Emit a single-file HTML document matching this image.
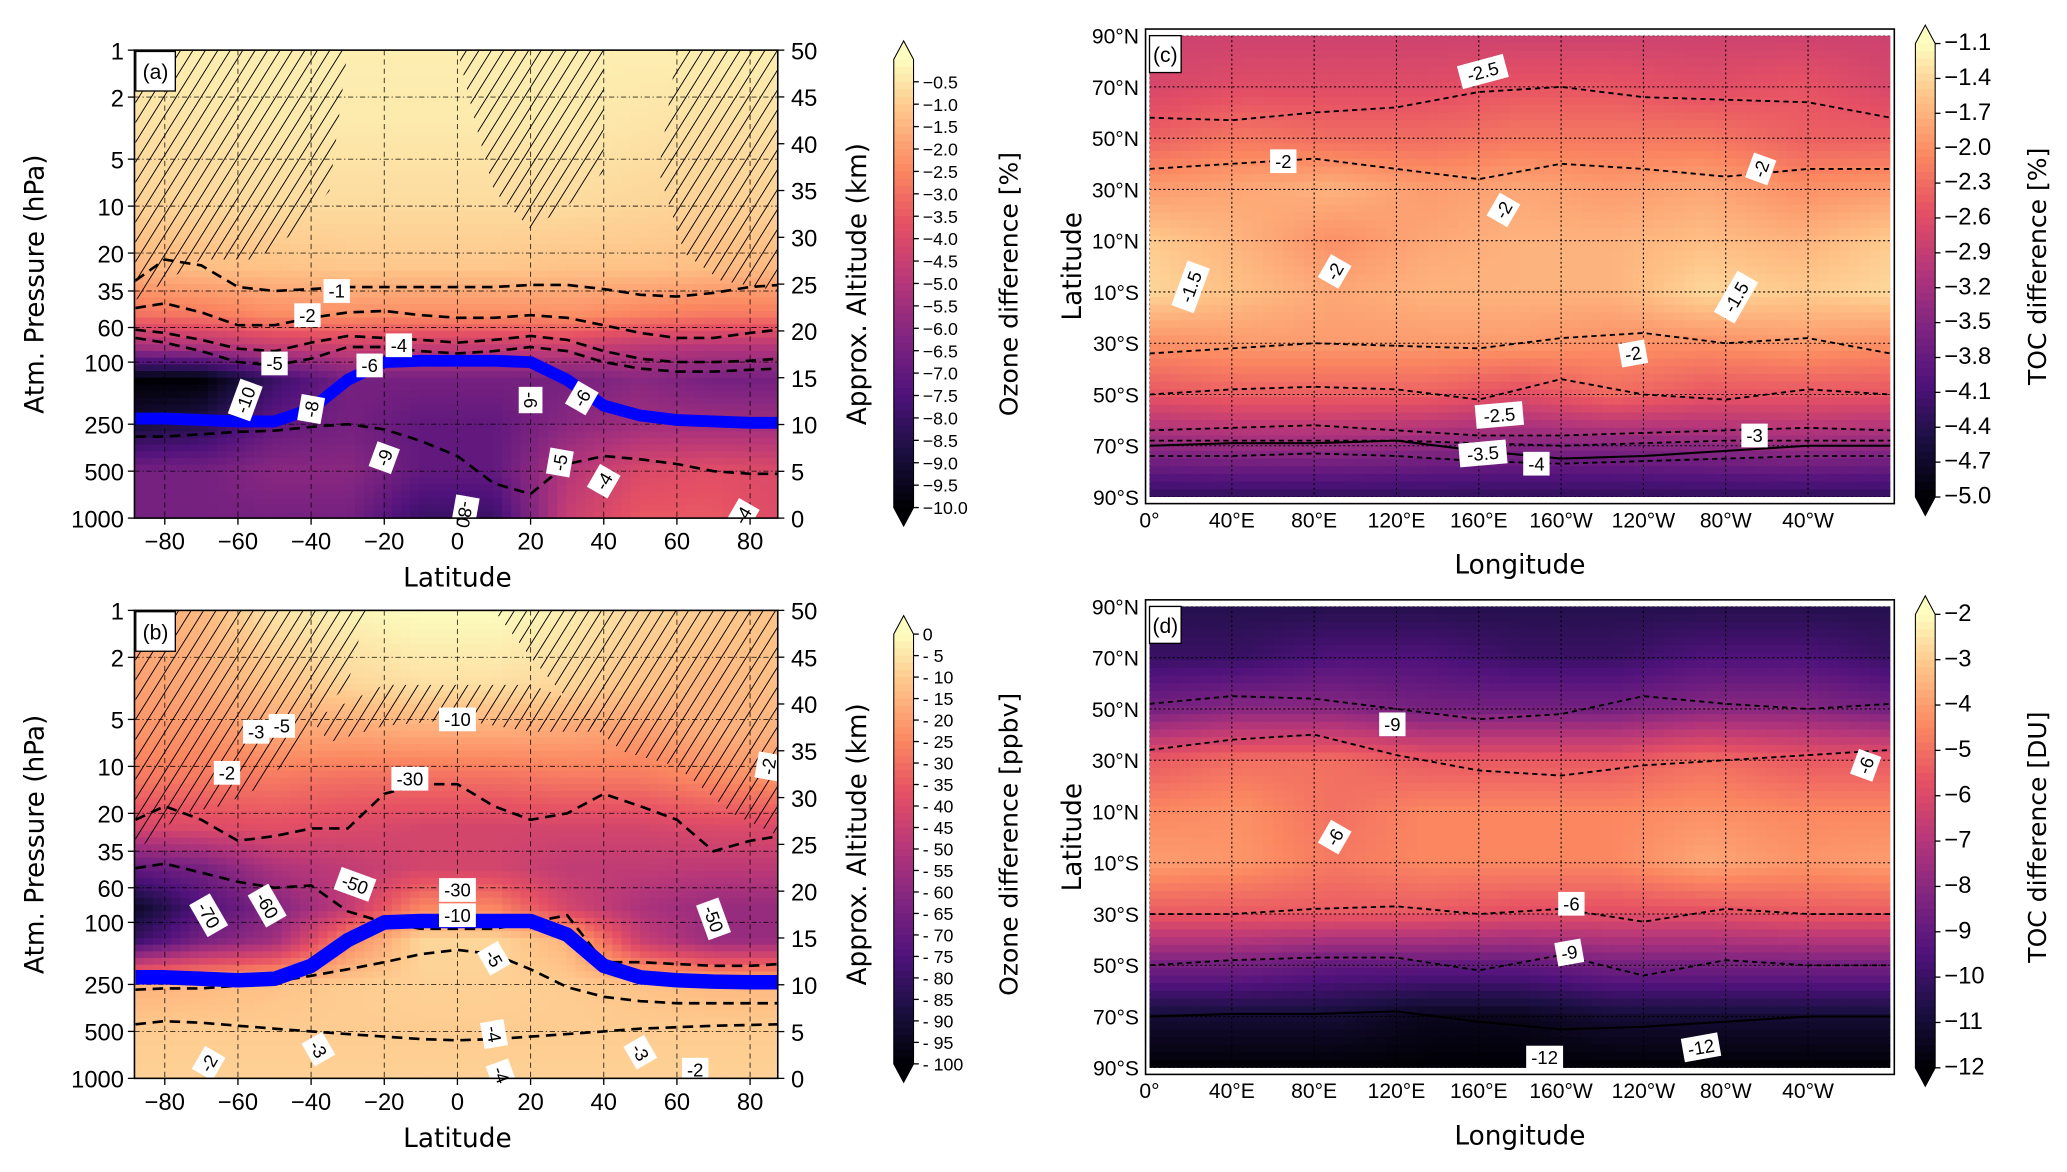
<!DOCTYPE html>
<html><head><meta charset="utf-8">
<style>
html,body{margin:0;padding:0;background:#fff;}
svg{display:block;font-family:"Liberation Sans","DejaVu Sans",sans-serif;}
.t{font-size:16px;fill:#000;}
.lab{font-family:"DejaVu Sans","Liberation Sans",sans-serif;font-size:20px;fill:#000;}
.cb{font-size:13.5px;fill:#000;}
.cl{font-size:14px;fill:#000;}
</style></head>
<body>
<svg id="fig" width="2067" height="1172" viewBox="0 0 1568 889" xmlns="http://www.w3.org/2000/svg">
<defs>
<pattern id="hatch" patternUnits="userSpaceOnUse" width="8" height="8" patternTransform="rotate(32)">
<line x1="0" y1="0" x2="0" y2="8" stroke="#000" stroke-width="1.4"/>
</pattern>
<clipPath id="clipA"><rect x="102" y="38" width="488" height="355"/></clipPath>
<clipPath id="clipB"><rect x="102" y="463" width="488" height="355"/></clipPath>
<clipPath id="clipC"><rect x="872" y="27" width="562" height="350"/></clipPath>
<clipPath id="clipD"><rect x="872" y="460" width="562" height="350"/></clipPath>
</defs>
</svg>
<script>
// ---------- data: panel (a) ozone difference [%] ----------
const latsA = [-90,-70,-50,-30,-10,10,30,50,70,90];
const presA = [1,3,10,25,50,80,130,250,500,1000];
const valsA = [
[-0.3,-0.3,-0.3,-0.3,-0.3,-0.3,-0.3,-0.3,-0.3,-0.3],
[-0.6,-0.5,-0.4,-0.4,-0.4,-0.4,-0.4,-0.5,-0.6,-0.6],
[-0.9,-0.8,-0.7,-0.7,-0.7,-0.7,-0.7,-0.8,-0.9,-0.9],
[-1.5,-1.3,-1.2,-1.1,-1.1,-1.1,-1.2,-1.2,-1.3,-1.4],
[-3.0,-2.8,-2.4,-2.3,-2.4,-2.4,-2.3,-2.6,-2.8,-2.8],
[-5.5,-5.2,-4.6,-4.4,-4.6,-4.6,-4.4,-4.8,-5.0,-5.0],
[-10,-10,-8,-6.5,-6.5,-6.5,-6.5,-6,-6.5,-6.5],
[-9,-8.5,-7,-6.5,-7,-7,-6,-5.5,-5.5,-5.5],
[-6.5,-6.5,-6,-6,-7,-7,-5,-4,-3.8,-4],
[-6.5,-6.5,-6.5,-6.5,-8,-8,-4.5,-3.5,-3.5,-4]];
// ---------- data: panel (b) ozone difference [ppbv] ----------
const latsB = [-90,-70,-50,-30,-10,10,30,50,70,90];
const presB = [1,3,6,12,25,45,80,130,250,500,1000];
const valsB = [
[-17,-14,-5,-2,0,0,-3,-8,-10,-12],
[-20,-17,-12,-8,-6,-6,-8,-12,-15,-12],
[-22,-22,-18,-18,-17,-17,-18,-20,-16,-15],
[-28,-28,-28,-30,-30,-30,-28,-28,-24,-22],
[-42,-40,-38,-40,-42,-42,-42,-42,-40,-40],
[-70,-65,-52,-47,-42,-42,-47,-47,-48,-48],
[-95,-75,-62,-47,-25,-25,-42,-52,-57,-57],
[-82,-65,-55,-25,-8,-8,-15,-45,-57,-57],
[-16,-14,-12,-10,-9,-9,-10,-12,-14,-14],
[-10,-10,-10,-10,-10,-10,-10,-10,-10,-10],
[-9,-9,-9,-9,-9,-9,-9,-9,-9,-9]];
// ---------- contours (a),(b): pressure per latitude ----------
const cLats = [-88,-80,-70,-60,-50,-40,-30,-20,-10,0,10,20,30,40,50,60,70,80,88];
const contA1 = [30,22,24,33,35,34,33,33,33,33,33,32,32,34,37,38,36,33,32];
const contA2 = [45,42,48,58,58,52,48,47,50,52,52,50,52,58,65,70,70,65,62];
const contA4 = [62,65,72,82,85,75,68,70,72,75,72,68,72,85,95,100,100,98,95];
const contA5 = [70,75,85,100,105,95,80,80,85,88,85,80,85,100,110,115,115,112,110];
const contA6 = [300,300,290,280,275,260,250,270,320,400,600,700,450,400,420,450,500,520,520];
const tropA = [230,230,235,240,240,200,130,100,98,98,98,100,130,190,220,235,240,245,245];
const contB30 = [22,18,22,30,28,25,25,15,13,13,18,22,20,15,18,22,35,30,28];
const contB10 = [45,42,48,55,60,58,85,100,110,110,110,100,90,180,180,185,190,190,185];
const contB5 = [270,265,265,255,240,220,200,180,160,150,160,200,260,300,320,330,330,330,330];
const contB3 = [450,430,440,460,480,500,520,540,560,570,560,540,520,500,480,470,460,455,450];
const tropB = [225,225,230,235,230,190,130,100,98,98,98,98,120,190,225,235,240,242,242];
// ---------- data: maps (c) [%] and (d) [DU] ----------
const mapLats = [90,70,50,30,10,-10,-30,-50,-70,-90];
const mapLons = [0,45,90,135,180,225,270,315,360];
const valsC = [
[-2.8,-2.8,-2.8,-2.8,-2.8,-2.8,-2.8,-2.8,-2.8],
[-2.7,-2.6,-2.6,-2.6,-2.5,-2.5,-2.6,-2.5,-2.7],
[-2.4,-2.2,-2.3,-2.3,-2.2,-2.2,-2.2,-2.4,-2.4],
[-1.9,-1.8,-1.7,-1.9,-1.8,-1.9,-1.8,-2.0,-1.9],
[-1.5,-1.7,-2.0,-1.8,-1.7,-1.7,-1.6,-1.7,-1.5],
[-1.4,-1.6,-1.8,-1.7,-1.7,-1.7,-1.4,-1.5,-1.4],
[-2.0,-1.9,-1.9,-1.9,-1.9,-2.0,-2.0,-1.9,-2.0],
[-2.5,-2.4,-2.4,-2.4,-2.6,-2.3,-2.5,-2.5,-2.5],
[-3.4,-3.3,-3.3,-3.4,-3.5,-3.5,-3.4,-3.3,-3.4],
[-4.3,-4.3,-4.3,-4.3,-4.3,-4.3,-4.3,-4.3,-4.3]];
const valsD = [
[-10.5,-10.5,-10.5,-10.5,-10.5,-10.5,-10.5,-10.5,-10.5],
[-10,-10,-9.5,-9.5,-10,-10,-9.5,-9.5,-10],
[-8.5,-8,-8,-8.5,-8.5,-8.5,-8,-8,-8.5],
[-5.5,-5,-5,-5.5,-5.5,-5.5,-5,-5.5,-5.5],
[-4.5,-4.3,-5,-4.5,-4.5,-4.5,-4.3,-4.5,-4.5],
[-4,-4.2,-4.8,-4.5,-4.5,-4.5,-3.8,-4.2,-4],
[-5.5,-5.5,-5.5,-5.5,-5.8,-5.8,-5.8,-5.5,-5.5],
[-8.5,-8.5,-9,-9,-9,-8.5,-8.5,-8.5,-8.5],
[-11,-11,-11,-11.5,-11.5,-11,-11,-11,-11],
[-12,-12,-12,-12,-12,-12,-12,-12,-12]];
const cLons = [0,40,80,120,160,200,240,280,320,360];
const contC25N = [58,57,60,62,68,70,66,65,64,58];
const contC2N = [38,40,42,38,34,40,38,35,38,38];
const contC2S = [-34,-32,-30,-31,-32,-28,-26,-30,-28,-34];
const contC25S = [-50,-48,-47,-48,-52,-44,-50,-52,-48,-50];
const contC3 = [-64,-63,-62,-64,-66,-66,-65,-64,-63,-64];
const contC35 = [-68,-68,-68,-68,-69,-70,-69,-68,-68,-68];
const contC4 = [-74,-74,-73,-74,-76,-77,-76,-75,-74,-74];
const contD9N = [52,55,54,50,46,48,55,52,50,52];
const contD6N = [34,38,40,32,26,24,28,30,32,34];
const contD6S = [-30,-30,-28,-27,-30,-28,-33,-28,-30,-30];
const contD9S = [-50,-48,-47,-47,-52,-46,-54,-48,-50,-50];
const coastAnt = [-70,-69,-69,-68,-72,-75,-74,-72,-70,-70];
// ---------- colorbar ticks ----------
const ticksA = [-0.5,-1.0,-1.5,-2.0,-2.5,-3.0,-3.5,-4.0,-4.5,-5.0,-5.5,-6.0,-6.5,-7.0,-7.5,-8.0,-8.5,-9.0,-9.5,-10.0];
const ticksB = [0,-5,-10,-15,-20,-25,-30,-35,-40,-45,-50,-55,-60,-65,-70,-75,-80,-85,-90,-95,-100];
const ticksC = [-1.1,-1.4,-1.7,-2.0,-2.3,-2.6,-2.9,-3.2,-3.5,-3.8,-4.1,-4.4,-4.7,-5.0];
const ticksD = [-2,-3,-4,-5,-6,-7,-8,-9,-10,-11,-12];
const presTicks = [1,2,5,10,20,35,60,100,250,500,1000];
const altTicks = [0,5,10,15,20,25,30,35,40,45,50];
const latTicks = [-80,-60,-40,-20,0,20,40,60,80];
const lonTicks = [0,40,80,120,160,200,240,280,320];
const lonLabels = ["0°","40°E","80°E","120°E","160°E","160°W","120°W","80°W","40°W"];
const mapLatTicks = [90,70,50,30,10,-10,-30,-50,-70,-90];

const NS="http://www.w3.org/2000/svg";
const svg=document.getElementById('fig');
function mk(tag,attrs,parent){const e=document.createElementNS(NS,tag);for(const k in attrs)e.setAttribute(k,attrs[k]);(parent||svg).appendChild(e);return e;}
const magma=[[0,0,0,4],[0.13,28,16,68],[0.25,79,18,123],[0.38,129,37,129],[0.5,181,54,122],[0.63,229,80,100],[0.75,251,135,97],[0.88,254,194,135],[1,252,253,191]];
function cmap(t){t=Math.max(0,Math.min(1,t));for(let i=1;i<magma.length;i++){if(t<=magma[i][0]){const a=magma[i-1],b=magma[i];const f=(t-a[0])/(b[0]-a[0]);return `rgb(${Math.round(a[1]+f*(b[1]-a[1]))},${Math.round(a[2]+f*(b[2]-a[2]))},${Math.round(a[3]+f*(b[3]-a[3]))})`;}}return 'rgb(252,253,191)';}
function interp1(arr,v){
 if(v<=arr[0])return[0,0];if(v>=arr[arr.length-1])return[arr.length-2,1];
 for(let i=0;i<arr.length-1;i++){if(v<=arr[i+1])return[i,(v-arr[i])/(arr[i+1]-arr[i])];}
}
function heat(g,xs,ys,vals,x0,x1,y0,y1,nx,ny,vmin,vmax){
 const dx=(x1-x0)/nx,dy=(y1-y0)/ny;
 for(let j=0;j<ny;j++){const yc=y0+(j+0.5)*dy;const[iy,fy]=interp1(ys,yc);
  for(let i=0;i<nx;i++){const xc=x0+(i+0.5)*dx;const[ix,fx]=interp1(xs,xc);
   const v=(1-fy)*((1-fx)*vals[iy][ix]+fx*vals[iy][ix+1])+fy*((1-fx)*vals[iy+1][ix]+fx*vals[iy+1][ix+1]);
   const r=mk('rect',{x:(x0+i*dx).toFixed(2),y:(y0+j*dy).toFixed(2),width:(dx+0.6).toFixed(2),height:(dy+0.6).toFixed(2),fill:cmap((v-vmin)/(vmax-vmin))},g);
   
   
  }}
}
function txt(s,x,y,cls,anchor,extra,name){const t=mk('text',Object.assign({x:x,y:y,class:cls,'text-anchor':anchor||'start'},extra||{}));t.textContent=s;return t;}
function box(label,x,y,rot,name){const g=mk('g',{transform:`translate(${x},${y}) rotate(${rot||0})`});const w=label.length*8+4;mk('rect',{x:-w/2,y:-9,width:w,height:18,fill:'#fff'},g);const t=mk('text',{x:0,y:5,class:'cl','text-anchor':'middle'},g);t.textContent=label;}

function latPanel(cfg){
 const top=cfg.top,bot=cfg.top+355,L=102,R=590;
 const X=lat=>347+lat*2.775;
 const Y=p=>top+Math.log10(p)/3*(bot-top);
 const g=mk('g',{'clip-path':`url(#${cfg.clip})`});
 heat(g,cfg.lats.map(X),cfg.pres.map(Y),cfg.vals,L,R,top,bot,70,70,cfg.vmin,cfg.vmax);
 latTicks.forEach(l=>{const e=mk('line',{x1:X(l),x2:X(l),y1:top,y2:bot,stroke:'#000','stroke-width':0.7,'stroke-dasharray':'4,3',opacity:0.8},g);});
 presTicks.forEach(p=>{const e=mk('line',{x1:L,x2:R,y1:Y(p),y2:Y(p),stroke:'#000','stroke-width':0.7,'stroke-dasharray':'4,2,1,2',opacity:0.8},g);});
 cfg.hatch.forEach(poly=>{const e=mk('polygon',{points:poly.map(q=>X(q[0])+','+Y(q[1])).join(' '),fill:'url(#hatch)'},g);});
 cfg.conts.forEach(c=>{const e=mk('polyline',{points:cLats.map((l,i)=>X(l)+','+Y(c[i])).join(' '),fill:'none',stroke:'#000','stroke-width':2,'stroke-dasharray':'8,5'},g);});
 const tp=mk('polyline',{points:cLats.map((l,i)=>X(l)+','+Y(cfg.trop[i])).join(' '),fill:'none',stroke:'#0000ff','stroke-width':cfg.tw,'stroke-linejoin':'round'},g);
 
 cfg.labels.forEach(b=>box(b[0],X(b[1]),Y(b[2]),b[3]));
 const f=mk('rect',{x:L,y:top,width:R-L,height:bot-top,fill:'none',stroke:'#000','stroke-width':1.2});
 const pg=mk('g',{});
 mk('rect',{x:L+1,y:top+1,width:30,height:30,fill:'#fff',stroke:'#000','stroke-width':1},pg);
 const pt=mk('text',{x:L+16,y:top+22,class:'t','text-anchor':'middle'},pg);pt.textContent=cfg.tag;
 presTicks.forEach(p=>{mk('line',{x1:L-5,x2:L,y1:Y(p),y2:Y(p),stroke:'#000'});txt(String(p),L-8,Y(p)+7,'t','end',{style:'font-size:18px'},'y-tick-label');});
 altTicks.forEach(a=>{const y=bot-a/50*(bot-top);mk('line',{x1:R,x2:R+5,y1:y,y2:y,stroke:'#000'});txt(String(a),R+10,y+7,'t','start',{style:'font-size:18px'},'y2-tick-label');});
 latTicks.forEach(l=>{mk('line',{x1:X(l),x2:X(l),y1:bot,y2:bot+5,stroke:'#000'});txt(l<0?'\u2212'+(-l):String(l),X(l),bot+24,'t','middle',{style:'font-size:18px'},'x-tick-label');});
 txt('Latitude',347,bot+52,'lab','middle',{},'x-axis-title');
 txt('Atm. Pressure (hPa)',0,0,'lab','middle',{transform:`translate(33,${(top+bot)/2}) rotate(-90)`},'y-axis-title');
 txt('Approx. Altitude (km)',0,0,'lab','middle',{transform:`translate(657,${(top+bot)/2}) rotate(-90)`},'y2-axis-title');
 colorbar(678,693,cfg.cbTop,cfg.cbBot,cfg.ticks,cfg.vmin,cfg.vmax,cfg.cbTitle,772,(top+bot)/2,cfg.tickFmt,13.5);
}
function colorbar(x0,x1,yt,yb,ticks,vmin,vmax,title,tx,ty,fmt,fs){
 const g=mk('g',{});
 const n=60,h=(yb-yt)/n;
 for(let i=0;i<n;i++){mk('rect',{x:x0,y:yt+i*h,width:x1-x0,height:h+0.6,fill:cmap(1-(i+0.5)/n)},g);}
 mk('polygon',{points:`${x0},${yt} ${x1},${yt} ${(x0+x1)/2},${yt-14}`,fill:cmap(1)},g);
 mk('polygon',{points:`${x0},${yb} ${x1},${yb} ${(x0+x1)/2},${yb+14}`,fill:cmap(0)},g);
 mk('polygon',{points:`${x0},${yt} ${(x0+x1)/2},${yt-14} ${x1},${yt} ${x1},${yb} ${(x0+x1)/2},${yb+14} ${x0},${yb}`,fill:'none',stroke:'#000','stroke-width':0.8},g);
 ticks.forEach(v=>{const y=yb-(v-vmin)/(vmax-vmin)*(yb-yt);mk('line',{x1:x1,x2:x1+4,y1:y,y2:y,stroke:'#000'},g);txt(fmt(v),x1+7,y+5,'cb','start',{style:`font-size:${fs}px`},'colorbar-tick-label');});
 txt(title,0,0,'lab','middle',{transform:`translate(${tx},${ty}) rotate(-90)`,style:'font-size:19px'},'colorbar-title');
}
const m=v=>(v<0?'\u2212':'')+Math.abs(v).toFixed(1);
const mi=v=>(v<0?'\u2212':'')+Math.abs(v);
const mi0=v=>v===0?'0':'- '+Math.abs(v);
latPanel({top:38,clip:'clipA',name:'panel-a',tag:'(a)',lats:latsA,pres:presA,vals:valsA,vmin:-10,vmax:0,tw:9,
 conts:[contA1,contA2,contA4,contA5,contA6],trop:tropA,
 hatch:[[[-88,1],[-30,1],[-35,8],[-45,15],[-55,22],[-70,22],[-88,40]],[[0,1],[40,1],[40,6],[30,10],[20,14],[10,8],[5,3]],[[60,1],[88,1],[88,35],[72,30],[62,20],[55,6]]],
 labels:[['-1',-33,35,0],['-2',-41,50,0],['-4',-16,78,0],['-5',-50,102,0],['-6',-24,105,0],['-10',-58,175,-70],['-8',-40,200,-80],['-9',-20,410,-70],['-6',20,175,90],['-6',34,170,-60],['-5',28,440,-80],['-4',40,580,-60],['-80',2,950,100],['-4',78,960,-60]],
 cbTop:45,cbBot:385,ticks:ticksA,cbTitle:'Ozone difference [%]',tickFmt:m});
latPanel({top:463,clip:'clipB',name:'panel-b',tag:'(b)',lats:latsB,pres:presB,vals:valsB,vmin:-100,vmax:0,tw:11,
 conts:[contB30,contB10,contB5,contB3],trop:tropB,
 hatch:[[[-88,1],[-25,1],[-30,3],[-40,5],[-48,10],[-55,14],[-65,18],[-75,20],[-88,35]],[[-40,5],[-20,3],[0,3],[20,3],[35,4],[40,6],[20,6],[0,5],[-20,5.5],[-35,7]],[[10,1],[88,1],[88,28],[75,20],[60,10],[45,8],[35,5],[20,2]]],
 labels:[['-10',0,5,0],['-30',-13,12,0],['-50',-28,57,20],['-30',0,62,0],['-10',0,90,0],['-60',-52,78,60],['-70',-68,90,60],['-50',70,95,70],['-3',-55,6,0],['-5',-48,5.5,0],['-2',-63,11,0],['-5',10,170,60],['-4',10,520,80],['-3',-38,650,60],['-2',-68,800,-60],['-4',12,950,70],['-3',50,680,60],['-2',65,880,0],['-2',85,10,-80]],
 cbTop:481,cbBot:807,ticks:ticksB,cbTitle:'Ozone difference [ppbv]',tickFmt:mi0});

function mapPanel(cfg){
 const top=cfg.top,bot=top+350,L=872,R=1434;
 const X=lon=>L+lon/360*(R-L);
 const Y=lat=>top+(90-lat)/180*(bot-top);
 const g=mk('g',{'clip-path':`url(#${cfg.clip})`});
 heat(g,mapLons.map(X),mapLats.map(Y),cfg.vals,L,R,top,bot,72,60,cfg.vmin,cfg.vmax);
 cfg.conts.forEach(c=>{const e=mk('polyline',{points:cLons.map((l,i)=>X(l)+','+Y(c[i])).join(' '),fill:'none',stroke:'#000','stroke-width':1.4,'stroke-dasharray':'4,3'},g);});
 const ca=mk('polyline',{points:cLons.map((l,i)=>X(l)+','+Y(coastAnt[i])).join(' '),fill:'none',stroke:'#000','stroke-width':1.6},g);
 lonTicks.forEach(l=>{mk('line',{x1:X(l),x2:X(l),y1:top,y2:bot,stroke:'#000','stroke-width':0.8,'stroke-dasharray':'1.5,2'},g);});
 mapLatTicks.forEach(l=>{mk('line',{x1:L,x2:R,y1:Y(l),y2:Y(l),stroke:'#000','stroke-width':0.8,'stroke-dasharray':'1.5,2'},g);});
 cfg.labels.forEach(b=>box(b[0],X(b[1]),Y(b[2]),b[3]));
 const f=mk('rect',{x:L-3,y:top-5,width:R-L+6,height:bot-top+10,fill:'none',stroke:'#000','stroke-width':1.2});
 const pg=mk('g',{});
 mk('rect',{x:L,y:top,width:24,height:28,fill:'#fff',stroke:'#000'},pg);
 const pt=mk('text',{x:L+12,y:top+20,class:'t','text-anchor':'middle'},pg);pt.textContent=cfg.tag;
 mapLatTicks.forEach(l=>txt(Math.abs(l)+'°'+(l>=0?'N':'S'),L-8,Y(l)+6,'t','end',{},'y-tick-label'));
 lonTicks.forEach((l,i)=>txt(lonLabels[i],X(l),bot+23,'t','middle',{},'x-tick-label'));
 txt('Longitude',1153,bot+58,'lab','middle',{},'x-axis-title');
 txt('Latitude',0,0,'lab','middle',{transform:`translate(820,${(top+bot)/2}) rotate(-90)`},'y-axis-title');
 colorbar(1453,1468,cfg.cbTop,cfg.cbBot,cfg.ticks,cfg.vmin,cfg.vmax,cfg.cbTitle,1552,(top+bot)/2,cfg.tickFmt,18);
}
mapPanel({top:27,clip:'clipC',name:'panel-c',tag:'(c)',vals:valsC,vmin:-5,vmax:-1.1,
 conts:[contC25N,contC2N,contC2S,contC25S,contC3,contC35,contC4],
 labels:[['-2.5',162,76,-15],['-2',65,41,0],['-2',172,22,-60],['-2',235,-34,-10],['-2.5',170,-58,-5],['-3',294,-66,0],['-3.5',162,-73,-5],['-4',188,-77,0],['-1.5',20,-8,-70],['-1.5',285,-12,-60],['-2',297,38,-70],['-2',90,-2,-60]],
 cbTop:33,cbBot:377,ticks:ticksC,cbTitle:'TOC difference [%]',tickFmt:m});
mapPanel({top:460,clip:'clipD',name:'panel-d',tag:'(d)',vals:valsD,vmin:-12,vmax:-2,
 conts:[contD9N,contD6N,contD6S,contD9S],
 labels:[['-9',118,44,0],['-6',90,0,-60],['-6',205,-26,0],['-9',204,-45,-10],['-6',348,28,-70],['-12',192,-86,0],['-12',268,-82,-10]],
 cbTop:466,cbBot:810,ticks:ticksD,cbTitle:'TOC difference [DU]',tickFmt:mi});
</script>
</body></html>
